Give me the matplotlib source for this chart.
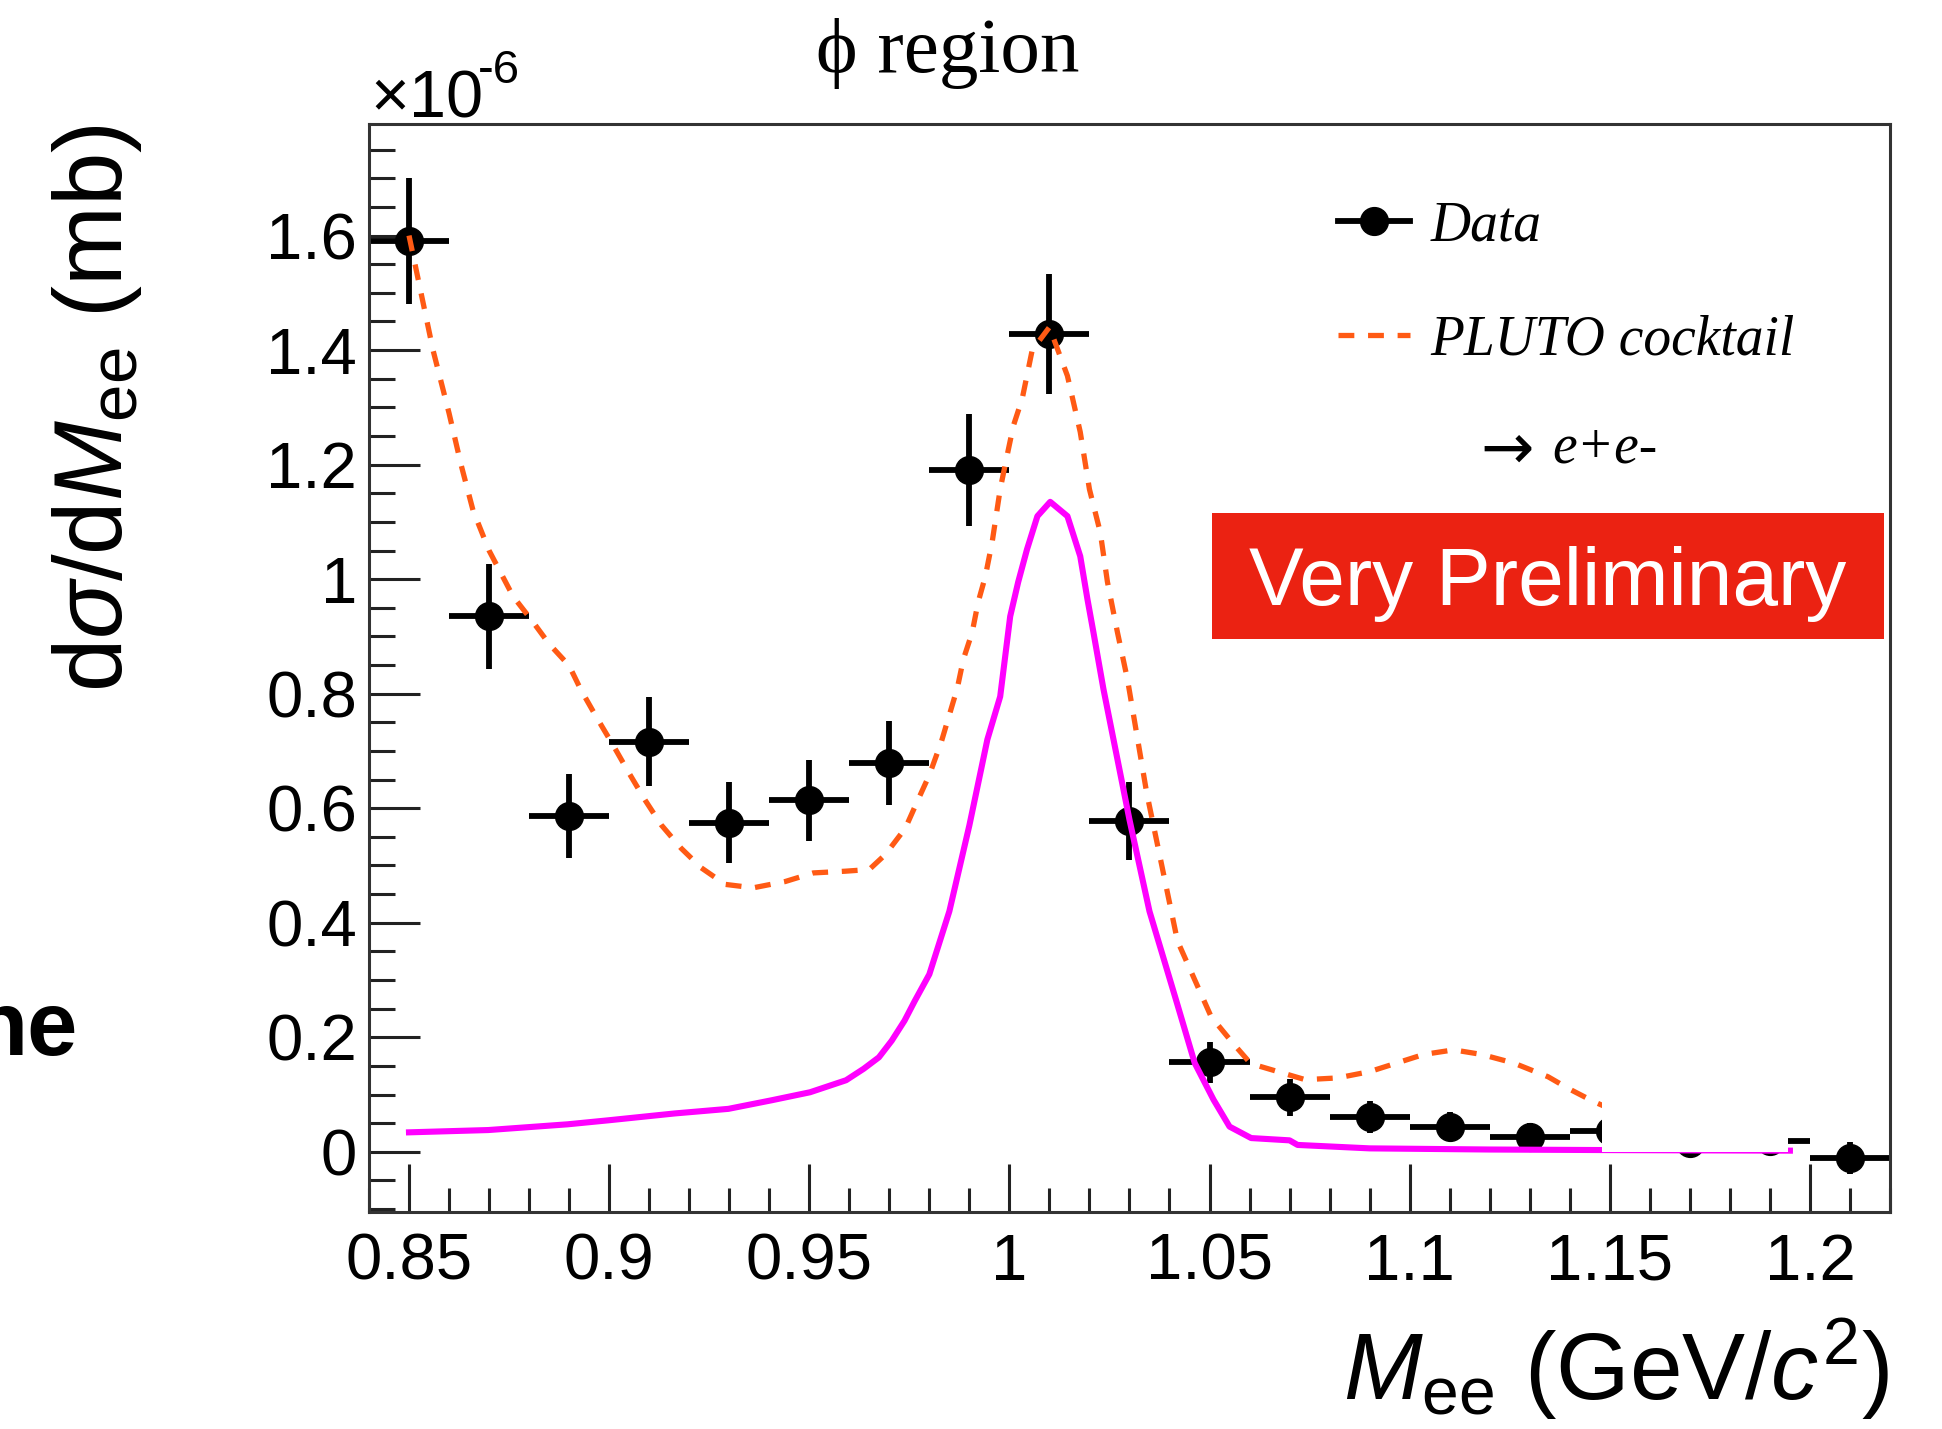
import matplotlib
matplotlib.use('Agg')
import matplotlib.pyplot as plt
import matplotlib.ticker as ticker
from matplotlib.lines import Line2D
from matplotlib.patches import Rectangle

plt.rcParams['font.family'] = ['Liberation Sans', 'DejaVu Sans']
plt.rcParams['mathtext.fontset'] = 'custom'
plt.rcParams['mathtext.rm'] = 'Liberation Sans'
plt.rcParams['mathtext.it'] = 'Liberation Sans:italic'

# measured spectrum, 20 MeV bins (units of 1e-6 mb)
mass = [0.85, 0.87, 0.89, 0.91, 0.93, 0.95, 0.97, 0.99, 1.01, 1.03,
        1.05, 1.07, 1.09, 1.11, 1.13, 1.15, 1.17, 1.19, 1.21]
xsec = [1.59, 0.935, 0.586, 0.716, 0.575, 0.614, 0.679, 1.19, 1.428, 0.577,
        0.156, 0.095, 0.061, 0.044, 0.026, 0.036, 0.016, 0.018, -0.011]
xsec_err = [0.11, 0.092, 0.073, 0.078, 0.071, 0.071, 0.073, 0.098, 0.105, 0.068,
            0.035, 0.032, 0.028, 0.026, 0.024, 0.022, 0.02, 0.02, 0.028]
bin_half = 0.01

# PLUTO cocktail
cocktail_m = [0.850, 0.853, 0.856, 0.860, 0.863, 0.866, 0.870, 0.873, 0.876, 0.881,
              0.885, 0.890, 0.893, 0.897, 0.901, 0.905, 0.909, 0.913, 0.918, 0.923,
              0.929, 0.936, 0.944, 0.951, 0.959, 0.965, 0.969, 0.974, 0.977, 0.980,
              0.983, 0.987, 0.9885, 0.9907, 0.9922, 0.994, 0.9957, 0.9977, 0.9994, 1.001,
              1.0032, 1.0057, 1.010, 1.0145, 1.0177, 1.020, 1.0227, 1.0245, 1.027, 1.0295,
              1.0343, 1.042, 1.0504, 1.0558, 1.0603, 1.0739, 1.082, 1.090, 1.1035, 1.111,
              1.118, 1.126, 1.1346, 1.1398, 1.1459, 1.155, 1.165]
cocktail_xs = [1.60, 1.50, 1.40, 1.29, 1.20, 1.12, 1.05, 1.01, 0.97, 0.925,
               0.887, 0.849, 0.806, 0.757, 0.71, 0.661, 0.614, 0.571, 0.53, 0.496,
               0.467, 0.461, 0.472, 0.487, 0.49, 0.493, 0.519, 0.565, 0.612, 0.658,
               0.716, 0.81, 0.86, 0.907, 0.96, 1.005, 1.065, 1.157, 1.215, 1.268,
               1.315, 1.40, 1.44, 1.355, 1.257, 1.157, 1.082, 0.995, 0.907, 0.825,
               0.627, 0.368, 0.236, 0.19, 0.154, 0.126, 0.129, 0.14, 0.17, 0.178,
               0.17, 0.155, 0.131, 0.11, 0.088, 0.06, 0.04]

# phi -> e+e- contribution
phi_m = [0.850, 0.8698, 0.8896, 0.8998, 0.9164, 0.9298, 0.9406, 0.9502, 0.9592, 0.9636,
         0.9674, 0.9706, 0.9738, 0.9764, 0.980, 0.985, 0.990, 0.9945, 0.9977, 1.0002,
         1.0022, 1.0044, 1.007, 1.0102, 1.0145, 1.0177, 1.0195, 1.021, 1.0235, 1.030,
         1.035, 1.0416, 1.0463, 1.051, 1.055, 1.0604, 1.070, 1.072, 1.090, 1.120,
         1.150, 1.195]
phi_xs = [0.034, 0.038, 0.048, 0.055, 0.067, 0.075, 0.090, 0.104, 0.125, 0.145,
          0.165, 0.194, 0.229, 0.264, 0.31, 0.42, 0.57, 0.72, 0.795, 0.935,
          0.995, 1.052, 1.11, 1.135, 1.11, 1.04, 0.965, 0.907, 0.808, 0.58,
          0.42, 0.266, 0.155, 0.091, 0.044, 0.024, 0.02, 0.012, 0.006, 0.004,
          0.003, 0.002]

orange = '#ff5a14'
dash = (0, (3.0, 2.6))

fig = plt.figure(figsize=(19.42, 14.29), dpi=100)
ax = fig.add_axes([0.190, 0.1519, 0.7832, 0.7614])

ax.errorbar(mass, xsec, yerr=xsec_err, xerr=bin_half, fmt='o', color='k',
            ms=20, elinewidth=4.2, capsize=0, zorder=2)
ax.plot(phi_m, phi_xs, color='#ff00ff', lw=4.4, zorder=3)
ax.plot(cocktail_m, cocktail_xs, color=orange, lw=3.8, ls=dash, zorder=4)

# blank patch over the high-mass tail
ax.add_patch(Rectangle((1.148, 0.0), 1.1945 - 1.148, 0.15, fc='white', ec='none', zorder=5))

ax.set_xlim(0.84, 1.22)
ax.set_ylim(-0.105, 1.795)

ax.xaxis.set_major_locator(ticker.MultipleLocator(0.05))
ax.xaxis.set_minor_locator(ticker.MultipleLocator(0.01))
ax.yaxis.set_major_locator(ticker.MultipleLocator(0.2))
ax.yaxis.set_minor_locator(ticker.MultipleLocator(0.05))
fmt = ticker.FuncFormatter(lambda v, p: '%g' % round(v, 3))
ax.xaxis.set_major_formatter(fmt)
ax.yaxis.set_major_formatter(fmt)

ax.tick_params(which='both', direction='in', top=False, right=False, width=2.2,
               labelsize=47, color='#222222')
ax.tick_params(axis='x', which='major', length=34.5, pad=15)
ax.tick_params(axis='x', which='minor', length=17)
ax.tick_params(axis='y', which='major', length=36.7, pad=8.6)
ax.tick_params(axis='y', which='minor', length=19)
for sp in ax.spines.values():
    sp.set_linewidth(2.2)
    sp.set_color('#333333')

# legend
h_data = Line2D([], [], color='k', lw=4.2, marker='o', ms=20)
h_cock = Line2D([], [], color=orange, lw=3.8, ls=dash)
ax.legend([h_data, h_cock], ['Data', 'PLUTO cocktail'], loc='upper left',
          bbox_to_anchor=(0.637, 0.93), frameon=False, numpoints=1,
          prop={'family': 'Liberation Serif', 'style': 'italic', 'size': 40},
          handlelength=1.3, handletextpad=0.37, labelspacing=1.12,
          borderpad=0, borderaxespad=0)
ax.text(0.731, 0.700, '→', transform=ax.transAxes, ha='left', va='center',
        family='DejaVu Sans', size=46, zorder=6)
ax.text(0.778, 0.702, 'e+e-', transform=ax.transAxes, ha='left', va='center',
        family='Liberation Serif', style='italic', size=40, zorder=6)

# preliminary stamp
ax.add_patch(Rectangle((0.554, 0.5267), 0.442, 0.1158, transform=ax.transAxes,
                       fc='#eb2212', ec='none', zorder=6))
ax.text(0.775, 0.577, 'Very Preliminary', transform=ax.transAxes, ha='center',
        va='center', color='white', size=59, zorder=7)

fig.text(0.488, 0.9496, 'ϕ region', ha='center', va='baseline',
         family=['Liberation Serif', 'DejaVu Serif'], size=57)
fig.text(0.1905, 0.918, '×10', ha='left', va='baseline', size=48)
fig.text(0.2462, 0.942, '-6', ha='left', va='baseline', size=34)

fig.text(0.9727, 0.0203, r'$M_{\rm ee}$ (GeV/$c^{2}$)', ha='right', va='baseline', size=68)
fig.text(0.0500, 0.913, r'd$\sigma$/d$M_{\rm ee}$ (mb)', rotation=90, ha='center',
         va='top', size=69)

fig.text(0.0402, 0.2617, 'ne', ha='right', va='baseline', weight='bold', size=65)

fig.savefig('out.png', dpi=100)
